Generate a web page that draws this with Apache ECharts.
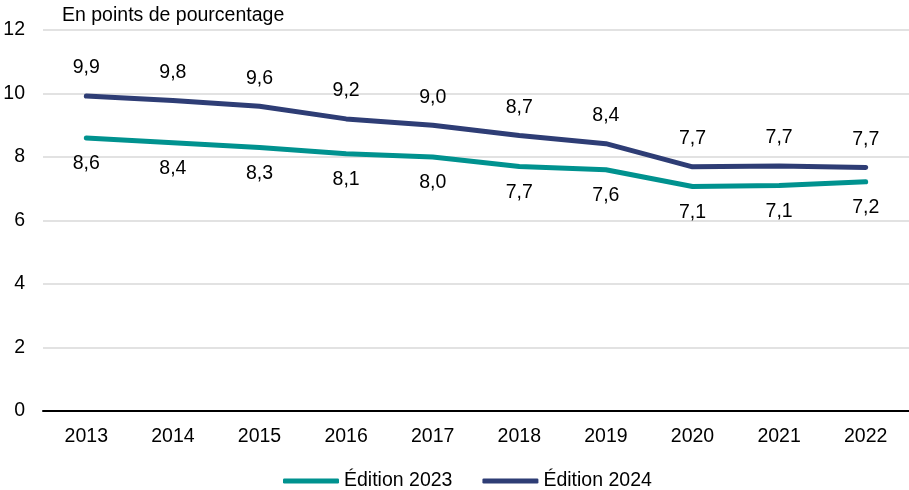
<!DOCTYPE html>
<html><head><meta charset="utf-8">
<script src="https://cdn.jsdelivr.net/npm/echarts@6/dist/echarts.min.js"></script>
<style>html,body{margin:0;padding:0;background:#fff}#c{width:909px;height:490px}</style>
</head><body><div id="c"></div>
<script>
const years = ['2013','2014','2015','2016','2017','2018','2019','2020','2021','2022'];
const edition2023 = [8.6, 8.45, 8.3, 8.1, 8.0, 7.7, 7.6, 7.07, 7.1, 7.22];
const edition2024 = [9.92, 9.78, 9.6, 9.2, 9.0, 8.68, 8.42, 7.69, 7.72, 7.67];
const yTicks = [0, 2, 4, 6, 8, 10, 12];
const font = 'Liberation Sans, Arial, sans-serif';
const fs = 19.5;
const fmt = p => p.value.toFixed(1).replace('.', ',');
const chart = echarts.init(document.getElementById('c'));
chart.setOption({
  animation: false,
  grid: { left: 43, right: 0, top: 30, bottom: 79, containLabel: false },
  legend: {
    top: 471, left: 283, padding: 0, itemWidth: 56, itemHeight: 5, itemGap: 30, icon: 'roundRect',
    textStyle: { fontFamily: font, fontSize: fs, color: '#000' },
    data: ['Édition 2023', 'Édition 2024']
  },
  xAxis: {
    type: 'category', data: years, boundaryGap: true,
    axisLine: { lineStyle: { color: '#000', width: 2 } },
    axisTick: { show: false },
    axisLabel: { fontFamily: font, fontSize: fs, color: '#000', margin: 16 }
  },
  yAxis: {
    type: 'value', min: yTicks[0], max: yTicks[yTicks.length - 1], interval: 2,
    name: 'En points de pourcentage', nameLocation: 'end', nameGap: 4,
    nameTextStyle: { fontFamily: font, fontSize: fs, color: '#000', align: 'left', padding: [0, 0, 0, 19] },
    axisLine: { show: false }, axisTick: { show: false },
    axisLabel: { fontFamily: font, fontSize: fs, color: '#000', margin: 18 },
    splitLine: { lineStyle: { color: '#d9d9d9', width: 1.5 } }
  },
  series: [
    {
      name: 'Édition 2023', type: 'line', data: edition2023, symbol: 'circle', symbolSize: 0, showSymbol: true,
      lineStyle: { color: '#00928f', width: 5, cap: 'round' }, itemStyle: { color: '#00928f' },
      label: { show: true, position: 'bottom', distance: 16, formatter: fmt, fontFamily: font, fontSize: fs, color: '#000' }
    },
    {
      name: 'Édition 2024', type: 'line', data: edition2024, symbol: 'circle', symbolSize: 0, showSymbol: true,
      lineStyle: { color: '#2e3d75', width: 5, cap: 'round' }, itemStyle: { color: '#2e3d75' },
      label: { show: true, position: 'top', distance: 18, formatter: fmt, fontFamily: font, fontSize: fs, color: '#000' }
    }
  ]
});
</script></body></html>
